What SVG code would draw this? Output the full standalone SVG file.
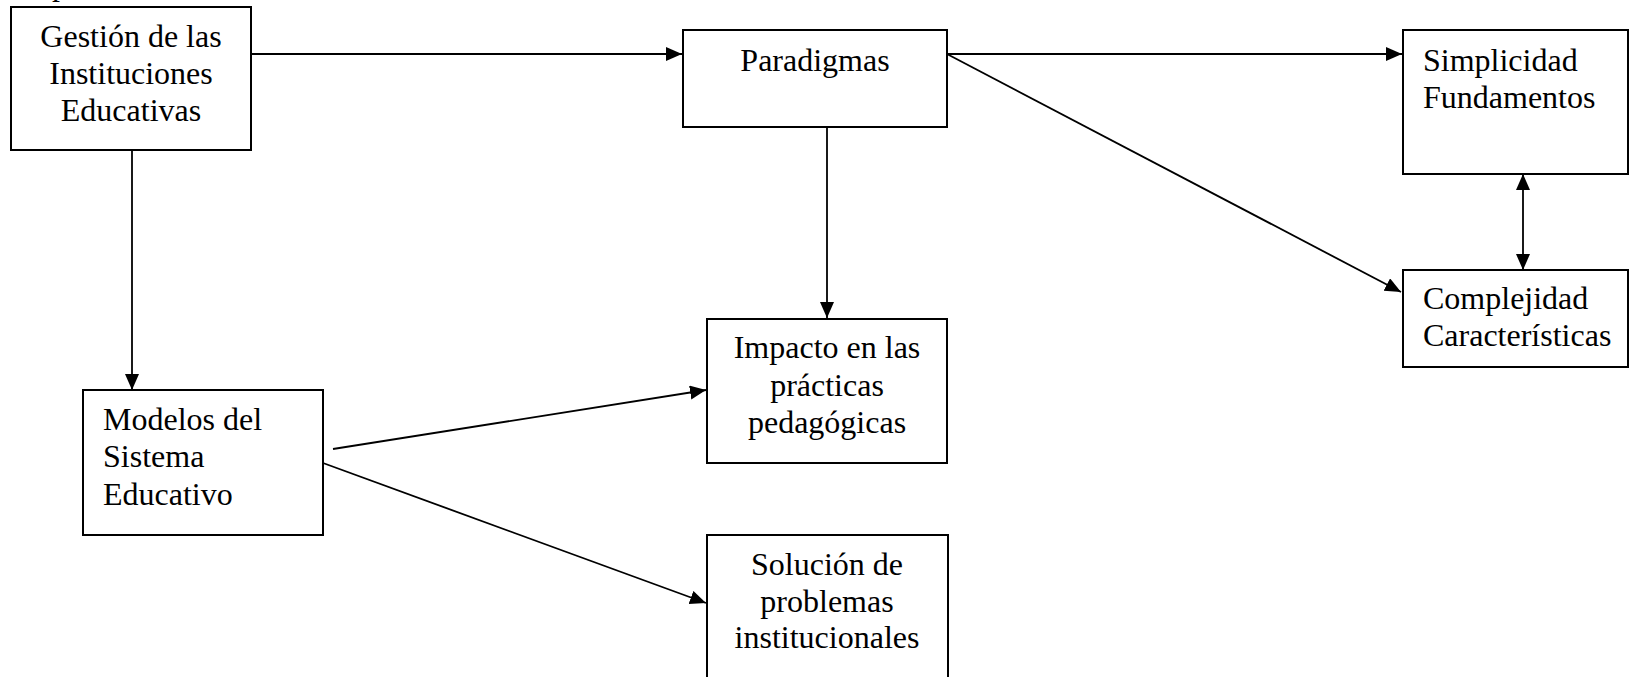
<svg xmlns="http://www.w3.org/2000/svg" width="1629" height="677" viewBox="0 0 1629 677">
<style>
.box{fill:#fff;stroke:#000;stroke-width:2}
.t{font-family:"Liberation Serif","Times New Roman",serif;font-size:32px;fill:#000}
.c{text-anchor:middle}
.ln{stroke:#000;stroke-width:1.8;fill:none}
</style>
<defs>
<marker id="ah" markerUnits="userSpaceOnUse" markerWidth="18" markerHeight="16" refX="16" refY="7" orient="auto-start-reverse">
<path d="M0,0 L16,7 L0,14 z" fill="#000"/>
</marker>
</defs>
<rect width="1629" height="677" fill="#fff"/>
<text class="t" x="52" y="-5">p</text>
<g id="connectors">
<line class="ln" x1="251" y1="54" x2="682" y2="54" marker-end="url(#ah)"/>
<line class="ln" x1="132" y1="150" x2="132" y2="390" marker-end="url(#ah)"/>
<line class="ln" x1="947" y1="54" x2="1402" y2="54" marker-end="url(#ah)"/>
<line class="ln" x1="947" y1="54" x2="1401" y2="292" marker-end="url(#ah)"/>
<line class="ln" x1="827" y1="127" x2="827" y2="318" marker-end="url(#ah)"/>
<line class="ln" x1="1523" y1="174" x2="1523" y2="270" marker-start="url(#ah)" marker-end="url(#ah)"/>
<line class="ln" x1="333" y1="449" x2="706" y2="390" marker-end="url(#ah)"/>
<line class="ln" x1="323" y1="463" x2="706" y2="603" marker-end="url(#ah)"/>
</g>
<g id="gestion">
<rect class="box" x="11" y="7" width="240" height="143"/>
<text class="t c" x="131" y="47">Gestión de las</text>
<text class="t c" x="131" y="84">Instituciones</text>
<text class="t c" x="131" y="121">Educativas</text>
</g>
<g id="paradigmas">
<rect class="box" x="683" y="30" width="264" height="97"/>
<text class="t c" x="815" y="71">Paradigmas</text>
</g>
<g id="simplicidad">
<rect class="box" x="1403" y="30" width="225" height="144"/>
<text class="t" x="1423" y="71">Simplicidad</text>
<text class="t" x="1423" y="108">Fundamentos</text>
</g>
<g id="complejidad">
<rect class="box" x="1403" y="270" width="225" height="97"/>
<text class="t" x="1423" y="309">Complejidad</text>
<text class="t" x="1423" y="346">Características</text>
</g>
<g id="modelos">
<rect class="box" x="83" y="390" width="240" height="145"/>
<text class="t" x="103" y="430">Modelos del</text>
<text class="t" x="103" y="467">Sistema</text>
<text class="t" x="103" y="505">Educativo</text>
</g>
<g id="impacto">
<rect class="box" x="707" y="319" width="240" height="144"/>
<text class="t c" x="827" y="358">Impacto en las</text>
<text class="t c" x="827" y="396">prácticas</text>
<text class="t c" x="827" y="433">pedagógicas</text>
</g>
<g id="solucion">
<rect class="box" x="707" y="535" width="241" height="150"/>
<text class="t c" x="827" y="575">Solución de</text>
<text class="t c" x="827" y="612">problemas</text>
<text class="t c" x="827" y="648">institucionales</text>
</g>
</svg>
